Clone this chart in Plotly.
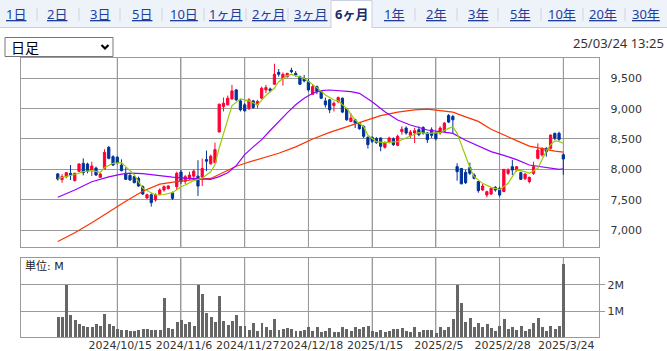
import plotly.graph_objects as go

# ---------------- data ----------------
opens = [7925, 7830, 7879, 7934, 7813, 7967, 8099, 8088, 7989, 8022,
         7868, 8011, 8362, 8209, 8200, 8071, 7934, 7901, 7879, 7852,
         7714, 7527, 7582, 7495, 7588, 7659, 7681, 7615, 7714, 7956,
         7802, 7852, 7888, 7888, 7871, 8161, 8090, 8112, 8615, 9035,
         9063, 9161, 9309, 9128, 9063, 8997, 9128, 9063, 9172, 9309,
         9325, 9402, 9598, 9500, 9527, 9631, 9582, 9527, 9500, 9445,
         9238, 9363, 9281, 9128, 9145, 9052, 9117, 9172, 8997, 8789,
         8817, 8762, 8708, 8527, 8527, 8510, 8516, 8363, 8451, 8505,
         8396, 8620, 8680, 8560, 8598, 8653, 8691, 8598, 8653, 8598,
         8598, 8626, 8888, 8871, 8044, 8014, 7950, 8030, 7907, 7797,
         7659, 7577, 7593, 7703, 7687, 7632, 7934, 8044, 7989, 7945,
         7846, 7797, 7934, 8181, 8236, 8346, 8346, 8593, 8593, 8240]
highs = [7937, 7920, 7956, 8071, 7945, 8099, 8181, 8110, 8126, 8044,
         7934, 8330, 8384, 8231, 8215, 8165, 8033, 7934, 7890, 7879,
         7736, 7600, 7604, 7604, 7687, 7736, 7740, 7632, 7961, 7989,
         7907, 7961, 8000, 8150, 8178, 8309, 8243, 8440, 9080, 9183,
         9216, 9391, 9325, 9161, 9090, 9172, 9145, 9145, 9363, 9391,
         9347, 9740, 9653, 9598, 9588, 9675, 9620, 9544, 9555, 9489,
         9402, 9380, 9290, 9183, 9161, 9118, 9200, 9183, 9008, 8923,
         8833, 8778, 8724, 8544, 8544, 8530, 8527, 8462, 8538, 8527,
         8571, 8710, 8708, 8648, 8680, 8708, 8708, 8615, 8691, 8626,
         8708, 8778, 8910, 8899, 8099, 8020, 7990, 8110, 7934, 7813,
         7758, 7648, 7698, 7725, 7714, 8005, 8016, 8154, 8050, 7961,
         7934, 7879, 8126, 8428, 8362, 8362, 8570, 8604, 8620, 8264]
lows = [7815, 7780, 7852, 7824, 7802, 7956, 7901, 7934, 7890, 7890,
        7860, 8000, 8165, 8055, 8080, 7967, 7824, 7813, 7770, 7714,
        7577, 7515, 7385, 7467, 7571, 7632, 7670, 7495, 7659, 7758,
        7758, 7824, 7860, 7560, 7724, 7970, 8079, 8101, 8610, 8954,
        9052, 9145, 9128, 8954, 8954, 8981, 8997, 9008, 9161, 9254,
        9270, 9391, 9527, 9380, 9511, 9582, 9527, 9391, 9434, 9281,
        9227, 9238, 9160, 9019, 8926, 8954, 9090, 8926, 8800, 8778,
        8680, 8653, 8516, 8341, 8434, 8420, 8298, 8341, 8429, 8385,
        8380, 8570, 8571, 8516, 8434, 8544, 8571, 8434, 8516, 8478,
        8571, 8615, 8762, 8598, 7813, 7752, 7758, 7906, 7835, 7615,
        7648, 7538, 7577, 7632, 7549, 7626, 7907, 7907, 7961, 7824,
        7824, 7769, 7907, 8165, 8209, 8209, 8330, 8483, 8472, 7910]
closes = [7840, 7880, 7945, 7907, 7934, 8088, 7945, 7972, 8055, 7907,
          7923, 8280, 8181, 8071, 8110, 7978, 7835, 7824, 7780, 7725,
          7593, 7582, 7451, 7577, 7660, 7714, 7725, 7522, 7934, 7797,
          7879, 7907, 7970, 7724, 8014, 8134, 8216, 8325, 9074, 9090,
          9172, 9292, 9145, 8981, 8964, 9145, 9019, 9118, 9336, 9347,
          9292, 9566, 9566, 9566, 9582, 9609, 9555, 9402, 9456, 9309,
          9363, 9281, 9172, 9063, 8981, 9090, 9183, 8943, 8817, 8844,
          8762, 8669, 8544, 8407, 8462, 8440, 8380, 8434, 8516, 8407,
          8544, 8660, 8598, 8615, 8637, 8571, 8598, 8489, 8560, 8505,
          8680, 8762, 8778, 8817, 7961, 7762, 7780, 7934, 7852, 7648,
          7725, 7632, 7687, 7659, 7577, 8000, 7989, 7989, 8044, 7835,
          7923, 7868, 8044, 8318, 8346, 8291, 8566, 8511, 8494, 8170]
volumes = [0.75, 0.78, 1.97, 0.85, 0.66, 0.51, 0.43, 0.37, 0.37, 0.51,
           0.41, 0.89, 0.51, 0.41, 0.31, 0.28, 0.28, 0.22, 0.24, 0.28,
           0.32, 0.32, 0.28, 0.28, 0.28, 1.50, 0.34, 0.32, 0.59, 0.66,
           0.51, 0.59, 0.43, 1.97, 1.66, 0.93, 0.78, 0.59, 1.58, 0.62,
           0.47, 0.62, 0.85, 0.41, 0.41, 0.28, 0.55, 0.24, 0.55, 0.37,
           0.28, 0.70, 0.28, 0.32, 0.36, 0.32, 0.24, 0.24, 0.28, 0.39,
           0.24, 0.39, 0.19, 0.24, 0.36, 0.20, 0.20, 0.39, 0.32, 0.24,
           0.39, 0.32, 0.39, 0.43, 0.24, 0.20, 0.28, 0.20, 0.24, 0.32,
           0.32, 0.36, 0.24, 0.20, 0.39, 0.20, 0.28, 0.28, 0.28, 0.17,
           0.39, 0.28, 0.39, 0.70, 2.00, 1.31, 0.59, 0.74, 0.39, 0.55,
           0.39, 0.51, 0.36, 0.24, 0.43, 0.70, 0.32, 0.39, 0.28, 0.43,
           0.24, 0.32, 0.55, 0.74, 0.39, 0.24, 0.43, 0.32, 0.43, 2.80]  # millions

# moving averages read at selected candles (index, value)
ma5_idx = [0, 2, 4, 6, 8, 10, 11, 13, 15, 16, 18, 20, 22, 23, 25, 27, 29, 30, 32, 34,
           36, 37, 38, 40, 41, 43, 45, 47, 49, 51, 52, 54, 55, 58, 60, 61, 63, 65, 66, 68,
           70, 72, 73, 75, 77, 80, 83, 85, 87, 90, 92, 93, 94, 95, 97, 98, 100, 102, 104, 106,
           108, 110, 111, 113, 115, 116, 117, 118, 119]
ma5_val = [7852, 7879, 7915, 7961, 7978, 7950, 8030, 8099, 8110, 8044, 7907, 7687, 7615, 7577, 7585, 7615, 7714, 7742, 7813, 7852,
           7960, 8079, 8352, 8800, 9050, 9161, 9128, 9063, 9216, 9340, 9445, 9544, 9566, 9500, 9402, 9347, 9225, 9142, 9131, 9005,
           8813, 8703, 8560, 8456, 8439, 8456, 8549, 8604, 8593, 8604, 8675, 8703, 8593, 8400, 8030, 7879, 7769, 7703, 7665, 7769,
           7989, 7961, 7934, 8016, 8300, 8401, 8470, 8460, 8430]
ma25_idx = [0, 4, 8, 12, 15, 17, 20, 23, 27, 30, 33, 36, 38, 40, 42, 44, 46, 48, 50, 52,
            54, 56, 58, 60, 62, 64, 66, 69, 71, 74, 77, 80, 83, 87, 90, 93, 96, 99, 102, 105,
            108, 111, 115, 118, 119]
ma25_val = [7540, 7660, 7795, 7875, 7920, 7937, 7930, 7900, 7870, 7855, 7840, 7835, 7880, 7943, 8060, 8243, 8370, 8489, 8640, 8790,
            8930, 9063, 9170, 9254, 9296, 9307, 9296, 9280, 9252, 9115, 8950, 8813, 8730, 8648, 8620, 8593, 8480, 8384, 8291, 8230,
            8160, 8071, 8033, 8000, 8010]
ma75_idx = [0, 4, 8, 12, 16, 20, 24, 28, 32, 36, 39, 42, 45, 48, 52, 56, 60, 64, 68, 72,
            76, 80, 84, 87, 90, 93, 96, 99, 102, 105, 108, 111, 114, 117, 119]
ma75_val = [6810, 6955, 7118, 7303, 7475, 7638, 7755, 7797, 7830, 7850, 7955, 8050, 8120, 8185, 8265, 8370, 8500, 8610, 8705, 8795,
            8885, 8943, 8981, 8992, 8966, 8943, 8865, 8790, 8660, 8560, 8473, 8383, 8341, 8300, 8285]

tick_idx = [14, 29, 44, 59, 74, 89, 104, 119]
tick_labels = ["2024/10/15", "2024/11/6", "2024/11/27", "2024/12/18",
               "2025/1/15", "2025/2/5", "2025/2/28", "2025/3/24"]
price_ticks = [7000, 7500, 8000, 8500, 9000, 9500]
vol_ticks = [1, 2]
vol_tick_labels = ["1M", "2M"]

tabs = ["1日", "2日", "3日", "5日", "10日", "1ヶ月", "2ヶ月", "3ヶ月", "6ヶ月",
        "1年", "2年", "3年", "5年", "10年", "20年", "30年"]
active_tab = "6ヶ月"
stamp = "25/03/24 13:25"

# ---------------- layout helpers ----------------
W, H = 667, 351
def fx(x):
    return x / W
def fy(y):
    return 1 - y / H

idx = list(range(len(opens)))
GRID = "#9a9a9a"
RED = "#ff0033"
BLUE = "#003399"
FONT = "DejaVu Sans, Noto Sans CJK JP"

fig = go.Figure()
fig.add_trace(go.Candlestick(
    x=idx, open=opens, high=highs, low=lows, close=closes,
    increasing=dict(line=dict(color=RED, width=1), fillcolor=RED),
    decreasing=dict(line=dict(color=BLUE, width=1), fillcolor=BLUE),
    whiskerwidth=0, xaxis="x", yaxis="y", showlegend=False, hoverinfo="skip"))
fig.add_trace(go.Scatter(x=ma75_idx, y=ma75_val, mode="lines",
                         line=dict(color="#ff3300", width=1.2), xaxis="x", yaxis="y",
                         showlegend=False, hoverinfo="skip"))
fig.add_trace(go.Scatter(x=ma25_idx, y=ma25_val, mode="lines",
                         line=dict(color="#9900ff", width=1.2), xaxis="x", yaxis="y",
                         showlegend=False, hoverinfo="skip"))
fig.add_trace(go.Scatter(x=ma5_idx, y=ma5_val, mode="lines",
                         line=dict(color="#99cc00", width=1.2), xaxis="x", yaxis="y",
                         showlegend=False, hoverinfo="skip"))
fig.add_trace(go.Bar(x=idx, y=volumes, width=0.7, marker=dict(color="#666666", line=dict(width=0)),
                     xaxis="x2", yaxis="y2", showlegend=False, hoverinfo="skip"))

xr = [-8.73, 127.47]
xdom = [fx(20.7), fx(599.3)]
common_x = dict(type="linear", range=xr, domain=xdom, tickmode="array", tickvals=tick_idx,
                showgrid=True, gridcolor=GRID, gridwidth=1, showline=True, mirror=True,
                linecolor=GRID, linewidth=1, zeroline=False, ticks="", fixedrange=True,
                automargin=False, tickangle=0)

fig.update_layout(
    width=W, height=H, autosize=False,
    margin=dict(l=0, r=0, t=0, b=0, autoexpand=False),
    paper_bgcolor="white", plot_bgcolor="white",
    font=dict(family=FONT, size=11, color="#333333"),
    boxgap=0.25,
    xaxis=dict(**common_x, showticklabels=False, rangeslider=dict(visible=False), anchor="y"),
    yaxis=dict(range=[6720, 9843], domain=[fy(247), fy(57.5)], side="right",
               tickvals=price_ticks, tickformat=",", showgrid=True, gridcolor=GRID,
               showline=True, mirror=True, linecolor=GRID, zeroline=False, ticks="",
               ticklabelstandoff=8, anchor="x", automargin=False,
               tickfont=dict(size=11, color="#333")),
    xaxis2=dict(**common_x, matches="x", ticktext=tick_labels, showticklabels=True,
                anchor="y2", ticklabelshift=3, ticklabelstandoff=-3,
                tickfont=dict(size=11, color="#333")),
    yaxis2=dict(range=[0, 3.015], domain=[fy(337.3), fy(258.3)], side="right",
                tickvals=vol_ticks, ticktext=vol_tick_labels, showgrid=True, gridcolor=GRID,
                showline=True, mirror=True, linecolor=GRID, zeroline=False,
                ticks="outside", ticklen=5, tickcolor=GRID, anchor="x2", automargin=False,
                tickfont=dict(size=11, color="#333")),
    bargap=0,
)

shapes = []
annotations = []
# vertical date grid lines in both panels, placed through the x scale
for t in tick_idx:
    for xa, ya in (("x", "y domain"), ("x2", "y2 domain")):
        shapes.append(dict(type="line", xref=xa, yref=ya, x0=t, x1=t, y0=0, y1=1,
                           line=dict(color=GRID, width=1), layer="below"))
# tab bar
shapes.append(dict(type="rect", xref="paper", yref="paper", x0=0, x1=1, y0=fy(27.5), y1=1,
                   fillcolor="#eef2f9", line=dict(width=0), layer="below"))
shapes.append(dict(type="line", xref="paper", yref="paper", x0=0, x1=1, y0=fy(27.5), y1=fy(27.5),
                   line=dict(color="#c7cfe0", width=1)))
shapes.append(dict(type="rect", xref="paper", yref="paper", x0=fx(331), x1=fx(372), y0=fy(28.5), y1=fy(0.5),
                   fillcolor="white", line=dict(width=0)))
for xx in (331, 372):
    shapes.append(dict(type="line", xref="paper", yref="paper", x0=fx(xx), x1=fx(xx), y0=fy(28), y1=fy(0.5),
                       line=dict(color="#c7cfe0", width=1)))
shapes.append(dict(type="line", xref="paper", yref="paper", x0=fx(331), x1=fx(372), y0=fy(0.5), y1=fy(0.5),
                   line=dict(color="#c7cfe0", width=1)))
tab_centers = [16, 57, 100, 142, 184, 226, 268, 310, 351, 394, 436, 478, 520, 562, 603, 646]
seps = [37, 79, 120, 162, 204, 246, 288, 415, 457, 498, 541, 583, 625]
for s in seps:
    shapes.append(dict(type="line", xref="paper", yref="paper", x0=fx(s), x1=fx(s), y0=fy(21), y1=fy(8),
                       line=dict(color="#cfd4de", width=1)))
for t, cx in zip(tabs, tab_centers):
    if t == active_tab:
        txt, col = "<b>%s</b>" % t, "#1b2a6b"
    else:
        txt, col = "<u>%s</u>" % t, "#1f3d9a"
    annotations.append(dict(x=fx(cx), y=fy(14), xref="paper", yref="paper", text=txt, showarrow=False,
                            xanchor="center", yanchor="middle",
                            font=dict(family="Noto Sans, Noto Sans CJK JP", size=13, color=col)))
# dropdown
shapes.append(dict(type="rect", xref="paper", yref="paper", x0=fx(5), x1=fx(113), y0=fy(56.5), y1=fy(37.5),
                   fillcolor="white", line=dict(color="#767676", width=1)))
shapes.append(dict(type="path", xref="paper", yref="paper",
                   path="M %f %f L %f %f L %f %f" % (fx(101.5), fy(45), fx(105), fy(48.5), fx(108.5), fy(45)),
                   line=dict(color="black", width=2.2)))
annotations.append(dict(x=fx(9), y=fy(47), xref="paper", yref="paper", text="日足", showarrow=False,
                        xanchor="left", yanchor="middle",
                        font=dict(family="Noto Sans CJK JP", size=14, color="black")))
annotations.append(dict(x=fx(666), y=fy(43), xref="paper", yref="paper", text=stamp, showarrow=False,
                        xanchor="right", yanchor="middle",
                        font=dict(family="Noto Sans", size=13, color="#333")))
annotations.append(dict(x=fx(23), y=fy(266), xref="paper", yref="paper", text="単位: M", showarrow=False,
                        xanchor="left", yanchor="middle",
                        font=dict(family=FONT, size=11, color="#222")))

fig.update_layout(shapes=shapes, annotations=annotations)
fig.write_html("out.html")
